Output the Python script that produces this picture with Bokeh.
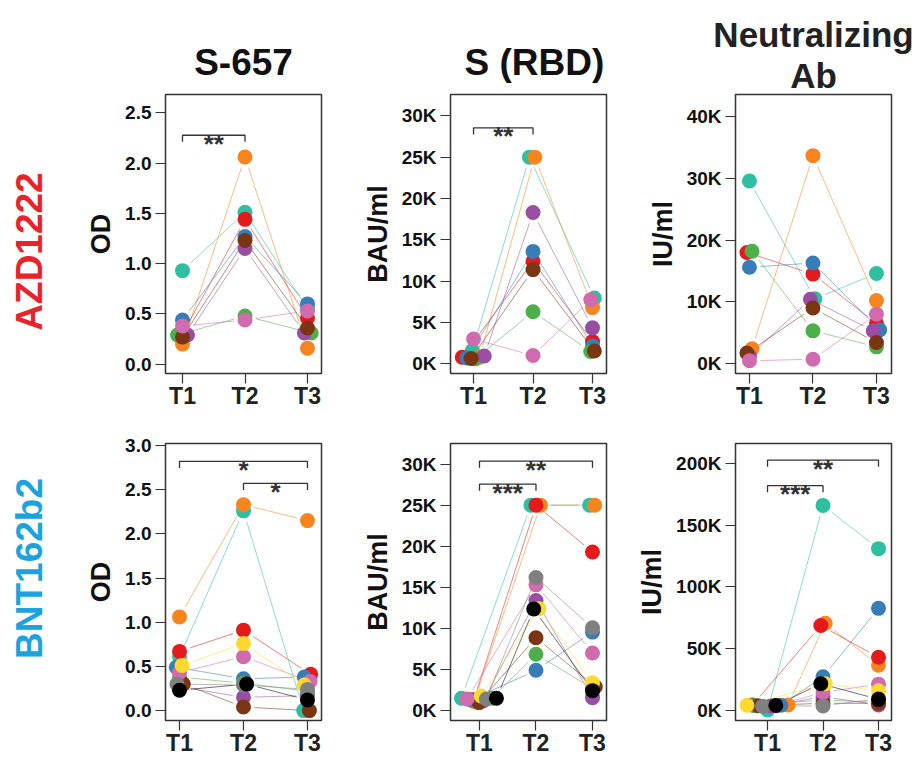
import math
from bokeh.plotting import figure
from bokeh.models import FixedTicker, Label, Range1d, Title
from bokeh.core.properties import value
from bokeh.layouts import column, row
from bokeh.embed import file_html
from bokeh.resources import INLINE

# ---------------- data ----------------
TIMES = ["T1", "T2", "T3"]

AZD_COLORS = ["#2EBFA3", "#F7851F", "#E41A1C", "#377EB8", "#4DAF4A", "#984EA3", "#7A3512", "#D06CAE"]
BNT_COLORS = AZD_COLORS + ["#FFD92F", "#808080", "#000000"]

# AZD1222 - S-657 (OD)
azd_s657_t1 = [0.93, 0.20, 0.30, 0.44, 0.29, 0.29, 0.27, 0.38]
azd_s657_t2 = [1.51, 2.06, 1.44, 1.27, 0.48, 1.15, 1.23, 0.44]
azd_s657_t3 = [0.55, 0.16, 0.46, 0.60, 0.31, 0.31, 0.36, 0.53]
azd_s657_jit = [[0, 0, 0, 0, -0.08, 0.08, 0, 0],
                [0, 0, 0, 0, 0, 0, 0, 0],
                [0, 0, 0, 0, 0.06, -0.05, 0, 0]]

# AZD1222 - S (RBD) (BAU/ml)
azd_rbd_t1 = [1600, 800, 800, 700, 600, 950, 650, 3000]
azd_rbd_t2 = [25000, 25000, 12400, 13600, 6300, 18300, 11400, 1000]
azd_rbd_t3 = [7950, 6800, 2700, 2150, 1500, 4350, 1550, 7750]
azd_rbd_jit = [[-0.02, 0.10, -0.19, -0.11, 0.03, 0.18, -0.04, 0],
               [-0.06, 0.03, 0, 0, 0, 0, 0, 0],
               [0.03, 0, 0, 0, -0.03, 0, 0.03, -0.03]]

# AZD1222 - Neutralizing Ab (IU/ml)
azd_nab_t1 = [29600, 2400, 18000, 15600, 18200, 1200, 1700, 440]
azd_nab_t2 = [10500, 33700, 14500, 16300, 5300, 10400, 9000, 700]
azd_nab_t3 = [14600, 10200, 6500, 5450, 2700, 5300, 3400, 8000]
azd_nab_jit = [[0, 0.04, -0.04, 0, 0.04, 0, -0.04, 0],
               [0.03, 0, 0, 0, 0, -0.04, 0, 0],
               [0, 0, 0, 0.05, 0, -0.05, 0, 0]]

# BNT162b2 - S-657 (OD)
bnt_s657_t1 = [0.61, 1.06, 0.67, 0.49, 0.38, 0.27, 0.30, 0.43, 0.51, 0.30, 0.23]
bnt_s657_t2 = [2.26, 2.33, 0.91, 0.36, 0.31, 0.15, 0.04, 0.61, 0.76, 0.29, 0.30]
bnt_s657_t3 = [0.00, 2.15, 0.41, 0.38, 0.22, 0.17, 0.00, 0.33, 0.29, 0.24, 0.12]
bnt_s657_jit = [[0, 0, 0, -0.05, 0, 0, 0.06, 0, 0.04, -0.04, 0],
                [0, 0, 0, 0, 0, 0, 0, 0, 0, 0, 0.05],
                [-0.06, 0, 0.05, -0.05, 0, 0, 0.03, 0.04, -0.05, 0, 0]]

# BNT162b2 - S (RBD) (BAU/ml)
bnt_rbd_t1 = [1500, 1100, 1300, 1300, 1500, 1200, 970, 1400, 1770, 1400, 1490]
bnt_rbd_t2 = [25000, 25000, 25000, 4900, 6850, 13400, 8860, 15300, 12400, 16200, 12360]
bnt_rbd_t3 = [25000, 25000, 19300, 9550, 2700, 1570, 2900, 7000, 3380, 10070, 2420]
bnt_rbd_jit = [[-0.32, -0.10, -0.10, -0.15, 0.22, 0.07, -0.01, -0.22, 0.03, 0.12, 0.30],
               [-0.09, 0.08, 0, 0, 0, 0, 0, 0, 0.05, 0, -0.04],
               [-0.05, 0.04, 0, 0, 0, 0, 0.05, 0, 0, 0, 0]]

# BNT162b2 - Neutralizing Ab (IU/ml)
bnt_nab_t1 = [500, 4500, 4500, 4300, 4200, 3800, 4000, 4000, 4300, 3500, 4200]
bnt_nab_t2 = [166000, 70700, 68800, 27300, 8600, 11200, 5900, 14700, 21700, 3800, 21700]
bnt_nab_t3 = [131000, 36700, 43100, 82700, 6700, 4600, 5900, 21400, 16000, 9600, 9100]
bnt_nab_jit = [[0, 0.37, -0.27, 0.24, -0.24, 0.06, -0.17, 0.15, -0.37, -0.09, 0.15],
               [0, 0.04, -0.04, 0, 0, 0, 0, 0, 0.04, 0, -0.04],
               [0, 0, 0, 0, 0, 0, 0, 0, 0, 0, 0]]

# y ticks and labels
od_azd_ticks = [0.0, 0.5, 1.0, 1.5, 2.0, 2.5]
od_azd_labels = ["0.0", "0.5", "1.0", "1.5", "2.0", "2.5"]
od_bnt_ticks = [0.0, 0.5, 1.0, 1.5, 2.0, 2.5, 3.0]
od_bnt_labels = ["0.0", "0.5", "1.0", "1.5", "2.0", "2.5", "3.0"]
rbd_ticks = [0, 5000, 10000, 15000, 20000, 25000, 30000]
rbd_labels = ["0K", "5K", "10K", "15K", "20K", "25K", "30K"]
nab_azd_ticks = [0, 10000, 20000, 30000, 40000]
nab_azd_labels = ["0K", "10K", "20K", "30K", "40K"]
nab_bnt_ticks = [0, 50000, 100000, 150000, 200000]
nab_bnt_labels = ["0K", "50K", "100K", "150K", "200K"]

# significance brackets: (from, to, height, stars)
azd_s657_sig = [(1, 2, 2.276, "**")]
azd_rbd_sig = [(1, 2, 28550, "**")]
azd_nab_sig = []
bnt_s657_sig = [(1, 3, 2.82, "*"), (2, 3, 2.57, "*")]
bnt_rbd_sig = [(1, 3, 30360, "**"), (1, 2, 27550, "***")]
bnt_nab_sig = [(1, 3, 202700, "**"), (1, 2, 182000, "***")]

COL_TITLES = ["S-657", "S (RBD)", "Neutralizing", "Ab"]
ROW_TITLES = ["AZD1222", "BNT162b2"]
ROW_COLORS = ["#E8232A", "#1BA3E0"]
Y_LABELS = ["OD", "BAU/ml", "IU/ml"]

# ---------------- layout ----------------
FONT = "Liberation Sans"
FW = 156
FH = [279, 277]
SPACER_W = 58
BORDER_L = [107, 114, 114]
BORDER_R = [15, 15, 30]
BORDER_T = [94, 30]
BORDER_B = [40, 40]
ROW_LABEL_CY = [251, 568]   # vertical centre of the row titles on the page


def make_panel(ci, ri, vals, jit, colors, yt, ytl, xr, yr, sig):
    p = figure(frame_width=FW, frame_height=FH[ri],
               min_border_left=BORDER_L[ci], min_border_right=BORDER_R[ci],
               min_border_top=BORDER_T[ri], min_border_bottom=BORDER_B[ri],
               x_range=Range1d(*xr), y_range=Range1d(*yr),
               output_backend="svg", toolbar_location=None)
    p.background_fill_color = "white"
    p.border_fill_color = "white"
    p.outline_line_color = "#333333"
    p.outline_line_width = 1.5
    p.xgrid.visible = False
    p.ygrid.visible = False

    sx = FW / (xr[1] - xr[0])
    sy = FH[ri] / (yr[1] - yr[0])

    # axes
    p.xaxis.ticker = FixedTicker(ticks=[1, 2, 3])
    p.xaxis.major_label_overrides = {i + 1: t for i, t in enumerate(TIMES)}
    p.yaxis.ticker = FixedTicker(ticks=yt)
    p.yaxis.major_label_overrides = {t: l for t, l in zip(yt, ytl)}
    for ax in (p.xaxis, p.yaxis):
        ax.axis_line_color = None
        ax.major_tick_out = 10
        ax.major_tick_in = 0
        ax.major_tick_line_color = "#333333"
        ax.major_tick_line_width = 1.2
        ax.minor_tick_line_color = None
        ax.major_label_text_font = FONT
        ax.major_label_text_font_style = "bold"
    p.yaxis.major_label_text_font_size = "19px"
    p.yaxis.major_label_text_color = "#111111"
    p.yaxis.major_label_standoff = 4
    p.xaxis.major_label_text_font_size = "23px"
    p.xaxis.major_label_text_color = "#222222"
    p.xaxis.major_label_standoff = -1
    p.yaxis.axis_label = Y_LABELS[ci]
    p.yaxis.axis_label_text_font = FONT
    p.yaxis.axis_label_text_font_style = "bold"
    p.yaxis.axis_label_text_font_size = "27px"
    p.yaxis.axis_label_text_color = "#111111"
    p.yaxis.axis_label_standoff = 6

    n = len(colors)
    xs = [[k + 1 + jit[k][i] for k in range(3)] for i in range(n)]
    ys = [[vals[k][i] for k in range(3)] for i in range(n)]

    # connecting lines with small gaps around the points
    gap = 11.0
    x0, y0, x1, y1, lc = [], [], [], [], []
    for i in range(n):
        for k in range(2):
            ax_, ay_ = xs[i][k], ys[i][k]
            bx_, by_ = xs[i][k + 1], ys[i][k + 1]
            L = math.hypot((bx_ - ax_) * sx, (by_ - ay_) * sy)
            if L <= 2 * gap + 1:
                continue
            t = gap / L
            x0.append(ax_ + (bx_ - ax_) * t)
            y0.append(ay_ + (by_ - ay_) * t)
            x1.append(bx_ - (bx_ - ax_) * t)
            y1.append(by_ - (by_ - ay_) * t)
            lc.append(colors[i])
    p.segment(x0=x0, y0=y0, x1=x1, y1=y1, line_color=lc, line_width=1.0, line_alpha=0.55)

    # points
    for i in range(n):
        p.scatter(xs[i], ys[i], size=15, fill_color=colors[i], line_color=None)

    # significance brackets
    drop = 6.6 / sy
    for (a, b, h, stars) in sig:
        p.line([a, a, b, b], [h - drop, h, h, h - drop], line_color="#333333", line_width=1.3)
        p.add_layout(Label(x=(a + b) / 2, y=h - 8.5 / sy, text=stars, text_align="center",
                           text_baseline="alphabetic", text_font=FONT, text_font_style="bold",
                           text_font_size="26px", text_color="#333333"))
    return p


def set_title(t, text, size, color, standoff, align="center", offset=0):
    t.text = text
    t.align = align
    t.text_font = FONT
    t.text_font_style = "bold"
    t.text_font_size = size
    t.text_color = color
    t.standoff = standoff
    t.offset = offset


def make_spacer(ri, text, color, center_y_page):
    row_top = 0 if ri == 0 else BORDER_T[0] + FH[0] + BORDER_B[0]
    frame_top = row_top + BORDER_T[ri]
    s = figure(frame_width=SPACER_W, frame_height=FH[ri],
               min_border_left=0, min_border_right=0,
               min_border_top=BORDER_T[ri], min_border_bottom=BORDER_B[ri],
               x_range=Range1d(0, SPACER_W), y_range=Range1d(0, FH[ri]),
               x_axis_location=None, y_axis_location=None,
               output_backend="svg", toolbar_location=None)
    s.outline_line_color = None
    s.background_fill_color = "white"
    s.border_fill_color = "white"
    s.xgrid.visible = False
    s.ygrid.visible = False
    s.text(x=[SPACER_W / 2], y=[FH[ri] - (center_y_page - frame_top)], text=[text],
           angle=math.pi / 2, text_align="center", text_baseline="middle",
           text_font=value(FONT), text_font_style="bold", text_font_size="37px",
           text_color=color)
    return s


panels_top = [
    make_panel(0, 0, [azd_s657_t1, azd_s657_t2, azd_s657_t3], azd_s657_jit, AZD_COLORS,
               od_azd_ticks, od_azd_labels, (0.728, 3.224), (-0.092, 2.681), azd_s657_sig),
    make_panel(1, 0, [azd_rbd_t1, azd_rbd_t2, azd_rbd_t3], azd_rbd_jit, AZD_COLORS,
               rbd_ticks, rbd_labels, (0.613, 3.235), (-1170, 32580), azd_rbd_sig),
    make_panel(2, 0, [azd_nab_t1, azd_nab_t2, azd_nab_t3], azd_nab_jit, AZD_COLORS,
               nab_azd_ticks, nab_azd_labels, (0.78, 3.237), (-1620, 43620), azd_nab_sig),
]
panels_bot = [
    make_panel(0, 1, [bnt_s657_t1, bnt_s657_t2, bnt_s657_t3], bnt_s657_jit, BNT_COLORS,
               od_bnt_ticks, od_bnt_labels, (0.781, 3.219), (-0.112, 3.022), bnt_s657_sig),
    make_panel(1, 1, [bnt_rbd_t1, bnt_rbd_t2, bnt_rbd_t3], bnt_rbd_jit, BNT_COLORS,
               rbd_ticks, rbd_labels, (0.487, 3.248), (-1210, 32500), bnt_rbd_sig),
    make_panel(2, 1, [bnt_nab_t1, bnt_nab_t2, bnt_nab_t3], bnt_nab_jit, BNT_COLORS,
               nab_bnt_ticks, nab_bnt_labels, (0.423, 3.234), (-8030, 216100), bnt_nab_sig),
]

# column titles
set_title(panels_top[0].title, COL_TITLES[0], "37px", "#111111", 24)
set_title(panels_top[1].title, COL_TITLES[1], "37px", "#111111", 24, "left", 14)
set_title(panels_top[2].title, COL_TITLES[2], "35px", "#222222", 0)
t_ab = Title()
set_title(t_ab, COL_TITLES[3], "35px", "#222222", 0)
panels_top[2].add_layout(t_ab, "above")

# row titles (vertical, far left)
sp_top = make_spacer(0, ROW_TITLES[0], ROW_COLORS[0], ROW_LABEL_CY[0])
sp_bot = make_spacer(1, ROW_TITLES[1], ROW_COLORS[1], ROW_LABEL_CY[1])

layout = column(row(sp_top, *panels_top), row(sp_bot, *panels_bot))
open("out.html", "w").write(file_html(layout, INLINE))
